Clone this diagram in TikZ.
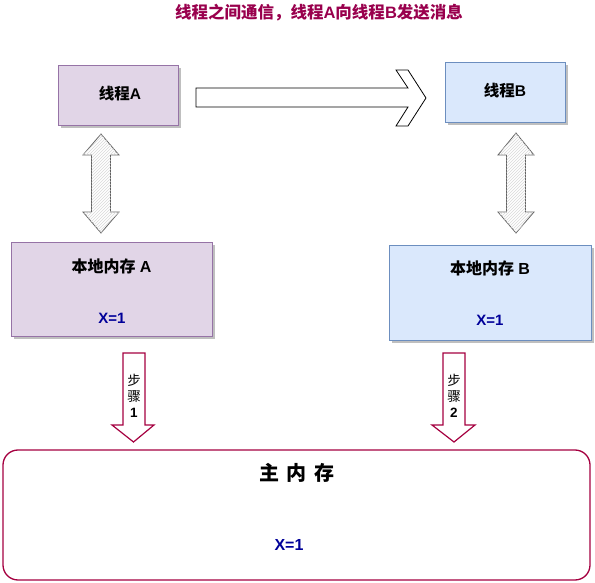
\documentclass[tikz,border=0pt]{standalone}
\usepackage{fontspec}
\setmainfont{Liberation Sans}
\newfontfamily\cjk{Noto Sans CJK SC}
\usetikzlibrary{shadows,patterns}
\definecolor{crim}{HTML}{A50040}
\definecolor{titlec}{HTML}{99004D}
\definecolor{purfill}{HTML}{E1D5E7}
\definecolor{purline}{HTML}{9673A6}
\definecolor{bluefill}{HTML}{DAE8FC}
\definecolor{blueline}{HTML}{6C8EBF}
\definecolor{xblue}{HTML}{000099}
\tikzset{
  shadowed/.style={drop shadow={shadow xshift=3pt,shadow yshift=-3pt,fill=black,opacity=0.25}},
  purbox/.style={draw=purline,fill=purfill,shadowed,line width=0.8pt,inner sep=0pt},
  bluebox/.style={draw=blueline,fill=bluefill,shadowed,line width=0.8pt,inner sep=0pt},
  lbl/.style={font=\bfseries\fontsize{15.5}{18}\selectfont,text=black,inner sep=0pt},
  xval/.style={font=\bfseries\fontsize{15}{18}\selectfont,text=xblue,inner sep=0pt},
  dblarrow/.style={draw=gray!75!black,line width=0.8pt,fill=white,postaction={pattern=north east lines,pattern color=gray!30}},
  steparrow/.style={draw=crim,line width=1.2pt,fill=white,line join=miter},
  steptext/.style={font=\fontsize{13.5}{16}\selectfont,align=center,inner sep=0pt}
}
\begin{document}
\begin{tikzpicture}[x=1pt,y=-1pt]
\useasboundingbox (0,0) rectangle (595,583);
% title
\node[font=\bfseries\fontsize{16.5}{19}\selectfont,text=titlec,inner sep=0pt] (title) at (319,13)
  {{\cjk 线程之间通信，线程}A{\cjk 向线程}B{\cjk 发送消息}};
% thread boxes
\node[purbox,minimum width=120pt,minimum height=60pt] (ta) at (118,95) {};
\node[lbl] (talbl) at (120,94) {{\cjk 线程}A};
\node[bluebox,minimum width=120pt,minimum height=60pt] (tb) at (505,92) {};
\node[lbl] (tblbl) at (505,91) {{\cjk 线程}B};
% big arrow A -> B
\draw[line width=0.8pt,fill=white,line join=miter]
  (196,88) -- (408,88) -- (396,70) -- (408,70) -- (426,98) -- (408,126) -- (396,126) -- (408,107) -- (196,107) -- cycle;
% local memory boxes
\node[purbox,minimum width=201pt,minimum height=94pt] (la) at (111.5,289) {};
\node[lbl,font=\bfseries\fontsize{16}{18}\selectfont] (lalbl) at (111.5,266) {{\cjk 本地内存} A};
\node[xval] (lax) at (112,318) {X=1};
\node[bluebox,minimum width=202pt,minimum height=95pt] (lb) at (490,292.5) {};
\node[lbl,font=\bfseries\fontsize{16}{18}\selectfont] (lblbl) at (490,268) {{\cjk 本地内存} B};
\node[xval] (lbx) at (490,320) {X=1};
% double arrows
\draw[dblarrow] (101,134) -- (119,155) -- (110.5,155) -- (110.5,212) -- (119,212) -- (101,233)
  -- (83,212) -- (91.5,212) -- (91.5,155) -- (83,155) -- cycle;
\draw[dblarrow] (516,133) -- (534,155) -- (525.5,155) -- (525.5,212) -- (534,212) -- (516,233)
  -- (498,212) -- (506.5,212) -- (506.5,155) -- (498,155) -- cycle;
% main memory
\node[draw=crim,line width=1.3pt,rounded corners=15pt,minimum width=587pt,minimum height=130pt,inner sep=0pt] (mm) at (296.5,515) {};
\node[font=\bfseries\fontsize{20}{24}\selectfont,inner sep=0pt] (mmlbl) at (297,473) {\cjk 主\hspace{0.4em}内\hspace{0.4em}存};
\node[xval,font=\bfseries\fontsize{16}{18}\selectfont] (mmx) at (289,545) {X=1};
% step arrows
\draw[steparrow] (123,353) -- (145,353) -- (145,425) -- (154,425) -- (133.5,442) -- (112,425) -- (123,425) -- cycle;
\node[steptext] (s1) at (134,396) {{\cjk 步}\\{\cjk 骤}\\\textbf{1}};
\draw[steparrow] (443,353) -- (465,353) -- (465,425) -- (475,425) -- (454,442) -- (432,425) -- (443,425) -- cycle;
\node[steptext] (s2) at (454,396) {{\cjk 步}\\{\cjk 骤}\\\textbf{2}};
\end{tikzpicture}
\end{document}
